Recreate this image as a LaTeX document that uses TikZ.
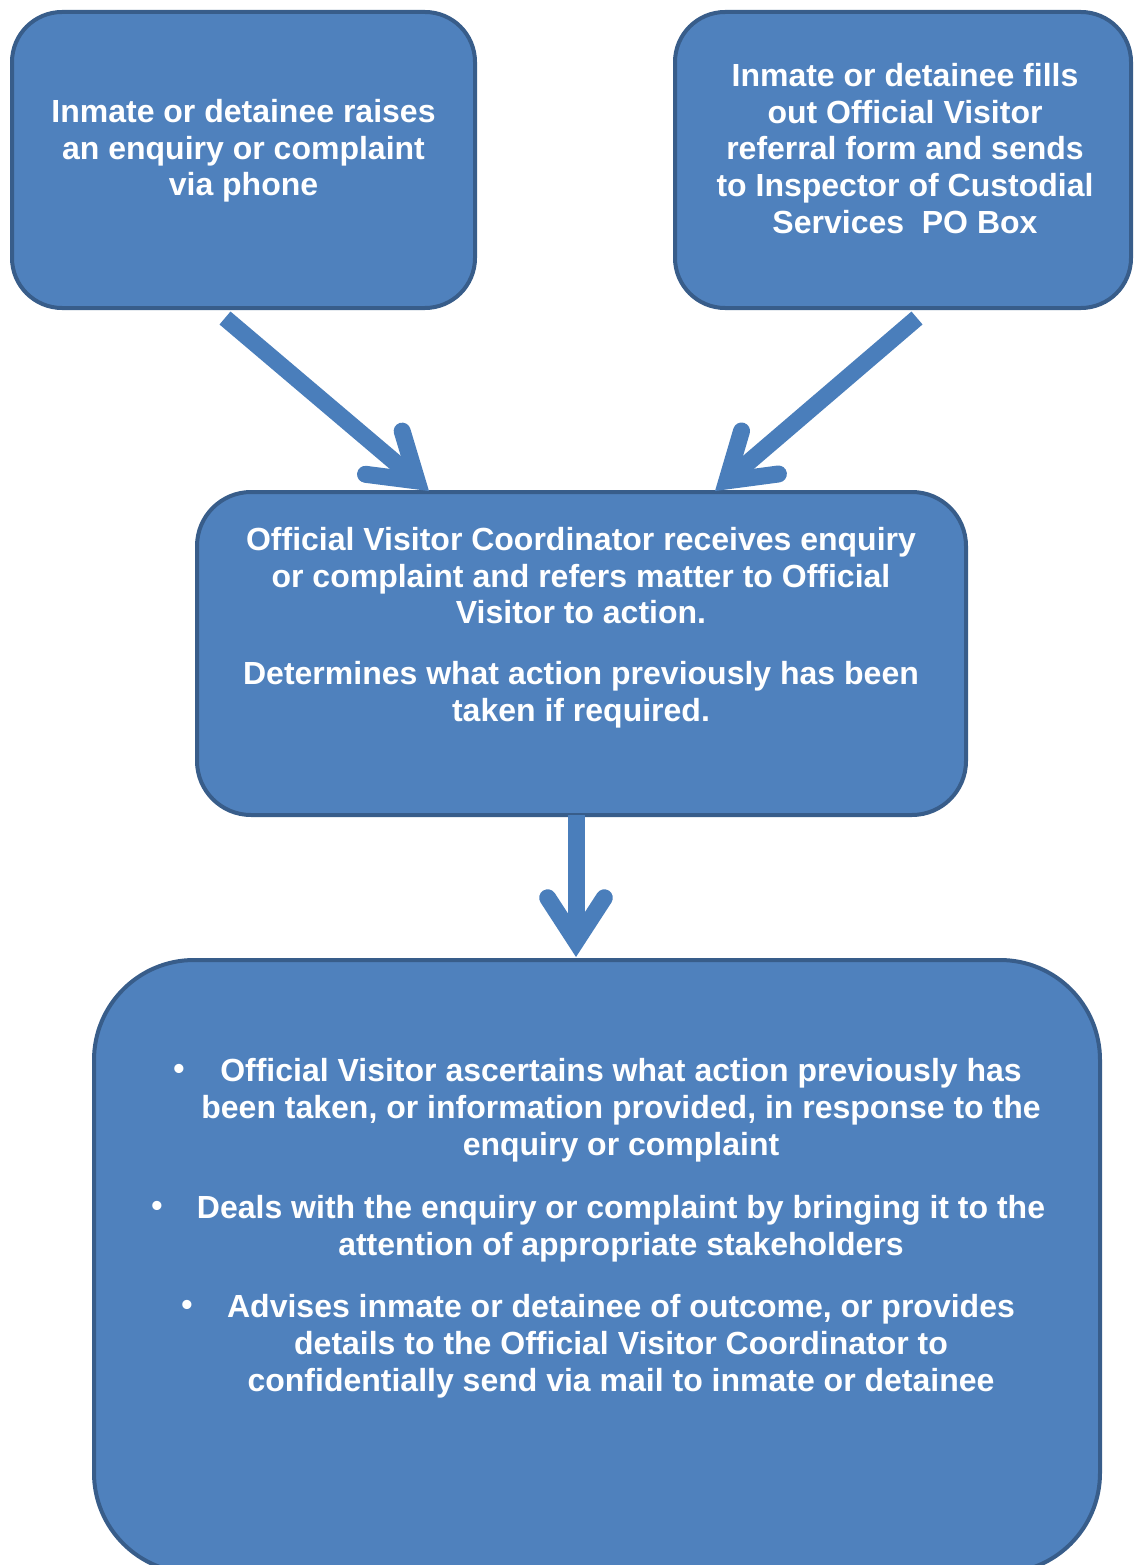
\documentclass[tikz,border=0pt]{standalone}
\usepackage{fontspec}
\setmainfont{Liberation Sans}
\usetikzlibrary{calc}
\definecolor{boxfill}{HTML}{4F81BD}
\definecolor{boxline}{HTML}{385D8A}
\definecolor{arrowblue}{HTML}{4A7EBB}
\begin{document}
\begin{tikzpicture}[x=1pt,y=-1pt,
  box/.style={draw=boxline, fill=boxfill, line width=4pt, inner sep=0pt, outer sep=0pt},
  txt/.style={text=white, font=\fontsize{32}{36.8}\selectfont\bfseries, align=center, inner sep=0pt, anchor=north},
  bul/.style={text=white, font=\fontsize{32}{36.8}\selectfont\bfseries, inner sep=0pt},
  shaftline/.style={draw=arrowblue, line width=17pt, line cap=butt},
  barbline/.style={draw=arrowblue, line width=17pt, line cap=round, line join=miter}
]
\useasboundingbox (0,0) rectangle (1133,1565);
% boxes
\node[box, minimum width=463pt, minimum height=296pt, rounded corners=50pt] (b1) at (243.5,160) {};
\node[box, minimum width=456pt, minimum height=296pt, rounded corners=50pt] (b2) at (903,160) {};
\node[box, minimum width=769pt, minimum height=323pt, rounded corners=54pt] (b3) at (581.5,653.5) {};
\node[box, minimum width=1006pt, minimum height=613pt, rounded corners=100pt] (b4) at (597,1266.5) {};
% texts
\node[txt] (x1) at (243.5,99) {Inmate or detainee raises\\an enquiry or complaint\\via phone};
\node[txt] (x2) at (905,63) {Inmate or detainee fills\\out Official Visitor\\referral form and sends\\to Inspector of Custodial\\Services\ \ PO Box};
\node[txt] (x3) at (581,527) {Official Visitor Coordinator receives enquiry\\or complaint and refers matter to Official\\Visitor to action.\\[24pt]Determines what action previously has been\\taken if required.};
\node[txt] (x4) at (621,1058) {Official Visitor ascertains what action previously has\\been taken, or information provided, in response to the\\enquiry or complaint};
\node[txt] (x5) at (621,1195) {Deals with the enquiry or complaint by bringing it to the\\attention of appropriate stakeholders};
\node[txt] (x6) at (621,1294) {Advises inmate or detainee of outcome, or provides\\details to the Official Visitor Coordinator to\\confidentially send via mail to inmate or detainee};
\node[bul] (u1) at (179,1072) {•};
\node[bul] (u2) at (157,1209) {•};
\node[bul] (u3) at (187,1308) {•};
% arrow end points
\coordinate (s1) at ($(b1.south)+(-18.5,10)$);
\coordinate (t1) at ($(b3.north)+(-152.5,-1)$);
\coordinate (s2) at ($(b2.south)+(14,10)$);
\coordinate (t2) at ($(b3.north)+(133.5,-1)$);
\coordinate (s3) at ($(b3.south)+(-5.5,0)$);
\coordinate (t3) at ($(b4.north)+(-21,-3)$);
\coordinate (v1) at ($(t1)!15.6pt!(s1)$);
\coordinate (v2) at ($(t2)!15.6pt!(s2)$);
\coordinate (v3) at ($(t3)!15.6pt!(s3)$);
\draw[shaftline] (s1) -- (v1);
\draw[barbline] ($(v1)!52pt!33:(s1)$) -- (v1) -- ($(v1)!52pt!-33:(s1)$);
\draw[shaftline] (s2) -- (v2);
\draw[barbline] ($(v2)!52pt!33:(s2)$) -- (v2) -- ($(v2)!52pt!-33:(s2)$);
\draw[shaftline] (s3) -- (v3);
\draw[barbline] ($(v3)!52pt!33:(s3)$) -- (v3) -- ($(v3)!52pt!-33:(s3)$);
\end{tikzpicture}
\end{document}
